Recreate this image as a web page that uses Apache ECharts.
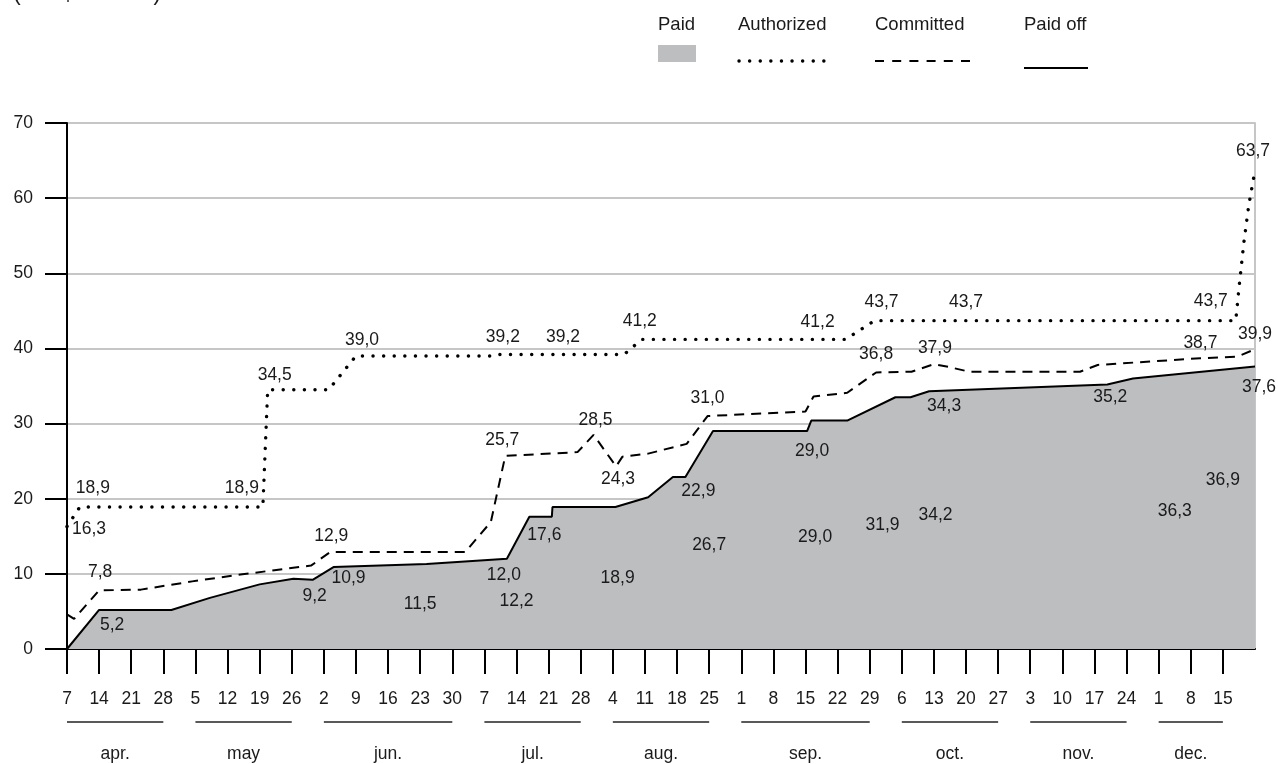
<!DOCTYPE html>
<html>
<head>
<meta charset="utf-8">
<title>Paid, Authorized, Committed and Paid off</title>
<script src="https://cdn.jsdelivr.net/npm/echarts@6/dist/echarts.min.js"></script>
<style>
  html, body { margin: 0; padding: 0; background: #ffffff; }
  #chart { width: 1278px; height: 764px; }
</style>
</head>
<body>
<div id="chart"></div>
<script>
// Week positions: 0 = first week of April, one unit per week.
const weekLabels = ['7','14','21','28','5','12','19','26','2','9','16','23','30','7','14','21','28',
  '4','11','18','25','1','8','15','22','29','6','13','20','27','3','10','17','24','1','8','15'];
const monthNames = ['apr.', 'may', 'jun.', 'jul.', 'aug.', 'sep.', 'oct.', 'nov.', 'dec.'];
const monthSpans = [[0, 3], [4, 7], [8, 12], [13, 16], [17, 20], [21, 25], [26, 29], [30, 33], [34, 36]];

// [week position, R$ billions]
const authorized = [
  [0, 16.3], [0.4, 18.9], [6.1, 18.9], [6.25, 34.5], [8.15, 34.5], [9.0, 39.0],
  [13.35, 39.0], [13.45, 39.2], [15.45, 39.2], [17.35, 39.2], [17.9, 41.2],
  [24.25, 41.2], [25.15, 43.7], [28.0, 43.7], [36.4, 43.7], [36.5, 48.0],
  [36.65, 54.0], [36.8, 58.9], [37, 63.7]
];
const committed = [
  [0, 4.6], [0.22, 4.0], [1.0, 7.8], [2.3, 7.9], [3.9, 9.0], [5.4, 9.9], [6.85, 10.7],
  [7.6, 11.1], [8.2, 12.9], [12.4, 12.9], [13.2, 16.9], [13.65, 25.7], [15.9, 26.2],
  [16.4, 28.5], [17.1, 24.3], [17.3, 25.6], [18.1, 26.0], [19.3, 27.3], [19.95, 31.0],
  [23.0, 31.6], [23.25, 33.6], [24.3, 34.1], [25.2, 36.8], [26.3, 36.9], [27.0, 37.9],
  [27.5, 37.5], [28.1, 36.9], [31.55, 36.9], [32.1, 37.8], [35.3, 38.7], [36.45, 38.9],
  [37, 39.9]
];
const paidOff = [
  [0, 0], [1.0, 5.2], [3.25, 5.2], [4.45, 6.8], [6.0, 8.6], [7.05, 9.35], [7.65, 9.2],
  [8.3, 10.9], [11.2, 11.3], [13.7, 12.0], [14.4, 17.6], [15.1, 17.6], [15.12, 18.9],
  [17.08, 18.9], [18.1, 20.2], [18.87, 22.9], [19.26, 22.9], [20.12, 29.0], [23.05, 29.0],
  [23.18, 30.4], [24.3, 30.4], [25.8, 33.5], [26.27, 33.5], [26.85, 34.3], [32.4, 35.2],
  [33.2, 36.0], [37, 37.6]
];
const paid = [
  [11.0, 11.5], [14.0, 12.2], [17.15, 18.9], [20.0, 26.7], [23.3, 29.0],
  [25.4, 31.9], [27.05, 34.2], [34.5, 36.3], [36.0, 36.9]
];

// Label placement: point index -> [dx, dy] of the label centre from the point.
const authorizedLabelAt = {
  0: [22, 3], 1: [13, -19], 2: [-21, -19], 3: [7, -15], 5: [6, -16], 7: [4, -17],
  8: [0, -17], 10: [-2, -18], 11: [-28, -17], 12: [7, -18], 13: [0, -18], 14: [-25, -19],
  18: [-2, -19]
};
const committedLabelAt = {
  2: [1, -18], 8: [1, -16], 11: [-3, -16], 13: [2, -15], 14: [2, 13], 18: [0, -18],
  22: [0, -18], 24: [1, -16], 29: [0, -15], 31: [0, -15]
};
const paidOffLabelAt = {
  1: [13, 15], 6: [2, 16], 7: [15, 11], 9: [-3, 16], 10: [15, 18], 16: [13, 14],
  18: [5, 20], 23: [15, 15], 24: [3, 13], 26: [4, 21]
};
// Paid labels sit halfway up the shaded area; extra vertical nudge per label.
const paidLabelNudge = [-2, -2, 0, -4, -3, -4, -5, -1, -30];

const FONT = "'Liberation Sans', Arial, Helvetica, sans-serif";
const INK = '#1a1a1a';
const LABEL_SIZE = 17.5;
const AREA_GREY = '#bdbec0';
const GRID_GREY = '#c6c6c6';

const fmt = v => v.toFixed(1).replace('.', ',');

function withLabels(points, labelAt) {
  return points.map((p, i) => {
    const off = labelAt[i];
    if (!off) return { value: p };
    return {
      value: p,
      label: {
        show: true, position: 'inside', offset: off,
        formatter: fmt(p[1]), color: INK, fontSize: LABEL_SIZE, fontFamily: FONT,
        align: 'center', verticalAlign: 'middle'
      }
    };
  });
}

const tickPositions = weekLabels.map((_, i) => i);

const chart = echarts.init(document.getElementById('chart'), null, { renderer: 'canvas' });

chart.setOption({
  animation: false,
  backgroundColor: '#ffffff',
  textStyle: { fontFamily: FONT, color: INK },
  grid: { left: 67, right: 23, top: 123, bottom: 115, containLabel: false, outerBoundsMode: 'none' },
  xAxis: {
    type: 'value', min: 0, max: 37, interval: 1,
    axisLine: { show: true, onZero: true, lineStyle: { color: '#000', width: 2 } },
    axisTick: { show: true, customValues: tickPositions, length: 25, lineStyle: { color: '#000', width: 2 } },
    axisLabel: {
      show: true, customValues: tickPositions, margin: 41,
      formatter: v => weekLabels[Math.round(v)] || '',
      color: INK, fontSize: LABEL_SIZE, fontFamily: FONT
    },
    splitLine: { show: false }
  },
  yAxis: [
    {
      type: 'value', min: 0, max: 70, interval: 10, position: 'left',
      axisLine: { show: true, lineStyle: { color: '#000', width: 2 } },
      axisTick: { show: true, length: 22, lineStyle: { color: '#000', width: 2 } },
      axisLabel: { margin: 34, color: INK, fontSize: LABEL_SIZE, fontFamily: FONT },
      splitLine: { show: true, lineStyle: { color: GRID_GREY, width: 2 } }
    },
    {
      type: 'value', min: 0, max: 70, interval: 10, position: 'right',
      axisLine: { show: true, lineStyle: { color: GRID_GREY, width: 2 } },
      axisTick: { show: false }, axisLabel: { show: false }, splitLine: { show: false }
    }
  ],
  graphic: [
    { type: 'text', left: 13, top: -18, silent: true,
      style: { text: '(in R$ Billions)', fill: INK, font: `23px ${FONT}` } },
    // legend
    { type: 'text', x: 658, y: 25, silent: true,
      style: { text: 'Paid', fill: INK, font: `18.5px ${FONT}`, verticalAlign: 'middle' } },
    { type: 'rect', shape: { x: 658, y: 45, width: 38, height: 17 }, style: { fill: AREA_GREY }, silent: true },
    { type: 'text', x: 738, y: 25, silent: true,
      style: { text: 'Authorized', fill: INK, font: `18.5px ${FONT}`, verticalAlign: 'middle' } },
    { type: 'line', shape: { x1: 739, y1: 61, x2: 834, y2: 61 }, silent: true,
      style: { stroke: '#000', lineWidth: 3.4, lineDash: [0.1, 10.5], lineCap: 'round' } },
    { type: 'text', x: 875, y: 25, silent: true,
      style: { text: 'Committed', fill: INK, font: `18.5px ${FONT}`, verticalAlign: 'middle' } },
    { type: 'line', shape: { x1: 875, y1: 61, x2: 970, y2: 61 }, silent: true,
      style: { stroke: '#000', lineWidth: 2, lineDash: [9, 8.2] } },
    { type: 'text', x: 1024, y: 25, silent: true,
      style: { text: 'Paid off', fill: INK, font: `18.5px ${FONT}`, verticalAlign: 'middle' } },
    { type: 'line', shape: { x1: 1024, y1: 68, x2: 1088, y2: 68 }, silent: true,
      style: { stroke: '#000', lineWidth: 2 } }
  ],
  series: [
    {
      name: 'Paid', type: 'line', data: paidOff, symbol: 'none', silent: true, z: 1,
      lineStyle: { width: 0 }, areaStyle: { color: AREA_GREY, opacity: 1 }
    },
    {
      name: 'Paid labels', type: 'custom', silent: true, z: 5,
      data: paid,
      encode: { x: 0, y: 1 },
      renderItem: (params, api) => {
        const v = api.value(1);
        const p = api.coord([api.value(0), v / 2]);
        return {
          type: 'text', x: p[0], y: p[1] + (paidLabelNudge[params.dataIndex] || 0),
          style: { text: fmt(v), fill: INK, font: `${LABEL_SIZE}px ${FONT}`, align: 'center', verticalAlign: 'middle' }
        };
      }
    },
    {
      name: 'Paid off', type: 'line', data: withLabels(paidOff, paidOffLabelAt), z: 3,
      symbol: 'circle', symbolSize: 0, silent: true,
      lineStyle: { color: '#000', width: 2 }, itemStyle: { color: '#000' }
    },
    {
      name: 'Committed', type: 'line', data: withLabels(committed, committedLabelAt), z: 3,
      symbol: 'circle', symbolSize: 0, silent: true,
      lineStyle: { color: '#000', width: 2, type: [10, 7] }, itemStyle: { color: '#000' }
    },
    {
      name: 'Authorized', type: 'line', data: withLabels(authorized, authorizedLabelAt), z: 3,
      symbol: 'circle', symbolSize: 0, silent: true,
      lineStyle: { color: '#000', width: 3.4, type: [0.1, 10.5], cap: 'round' }, itemStyle: { color: '#000' }
    },
    {
      name: 'Months', type: 'custom', silent: true, clip: false, z: 5,
      data: monthSpans.map(s => [s[0], s[1], 0]),
      encode: { x: [0, 1], y: 2 },
      renderItem: (params, api) => {
        const a = api.coord([api.value(0), 0]);
        const b = api.coord([api.value(1), 0]);
        return {
          type: 'group',
          children: [
            { type: 'line', shape: { x1: a[0], y1: a[1] + 73, x2: b[0], y2: b[1] + 73 },
              style: { stroke: '#222', lineWidth: 1.6 } },
            { type: 'text', x: (a[0] + b[0]) / 2, y: a[1] + 105,
              style: { text: monthNames[params.dataIndex], fill: INK, font: `${LABEL_SIZE}px ${FONT}`,
                       align: 'center', verticalAlign: 'middle' } }
          ]
        };
      }
    }
  ]
});
</script>
</body>
</html>
